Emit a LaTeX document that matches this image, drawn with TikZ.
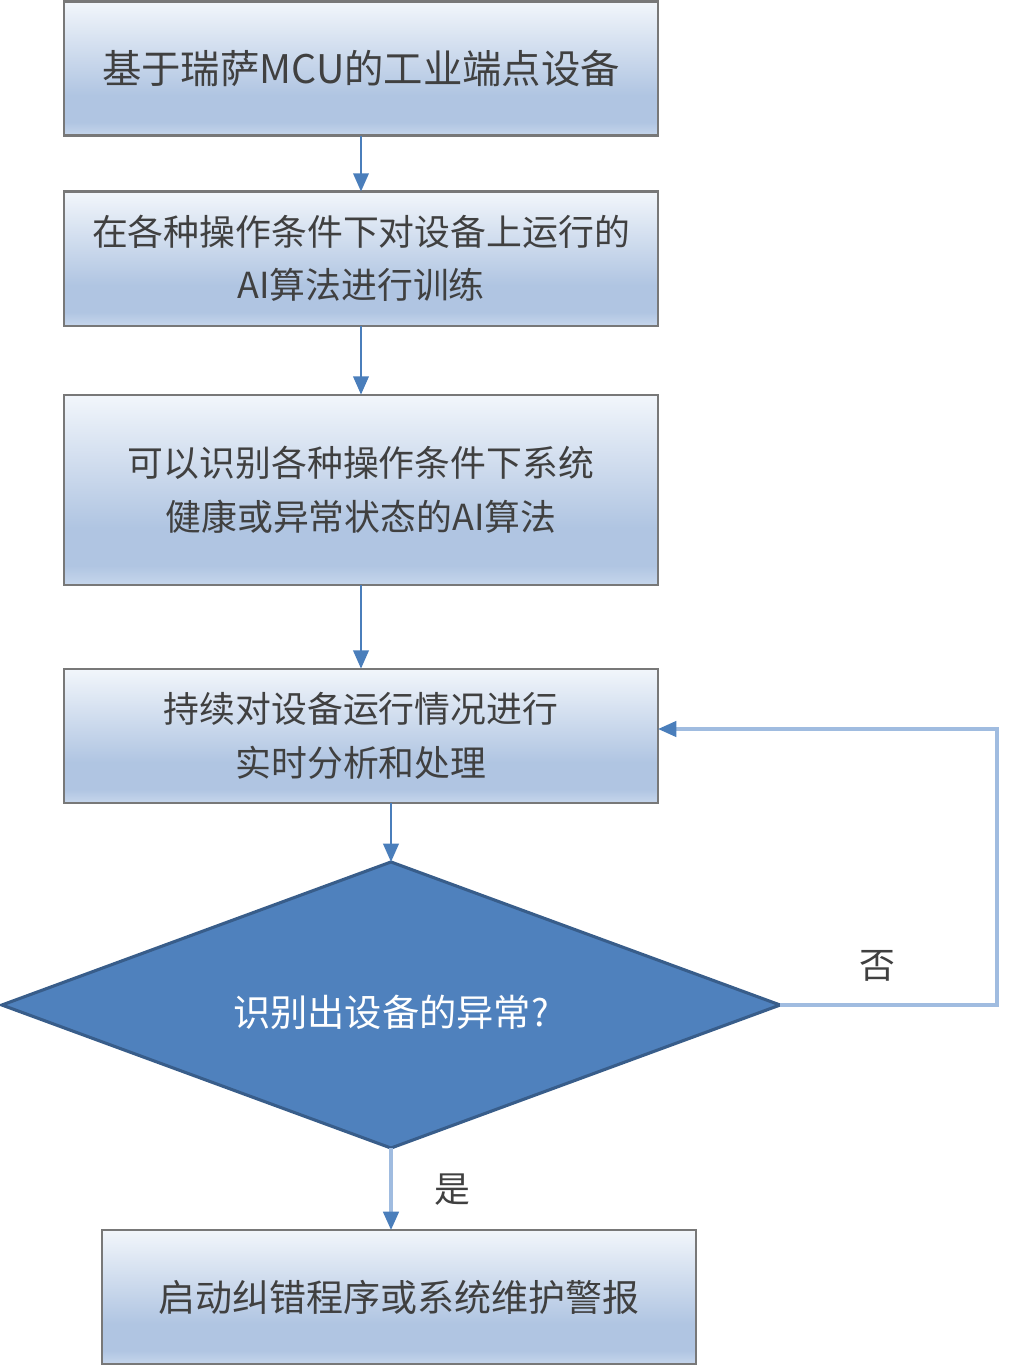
\documentclass[tikz,border=0pt]{standalone}
\usepackage{fontspec}
\setmainfont{Noto Sans CJK SC}
\usepackage{xcolor}
\usetikzlibrary{positioning,arrows.meta,shapes.geometric}
\definecolor{boxtop}   {RGB}{242,246,251}
\definecolor{boxmid}   {RGB}{176,197,226}
\definecolor{boxbot}   {RGB}{198,214,236}
\definecolor{bordercol}{RGB}{120,120,120}
\definecolor{textcol}  {RGB}{64,64,64}
\definecolor{arrowcol} {RGB}{74,126,187}
\definecolor{loopcol}  {RGB}{160,188,224}
\definecolor{diafill}  {RGB}{79,129,189}
\definecolor{diadraw}  {RGB}{56,93,138}
\pgfdeclareverticalshading{boxshade}{100bp}{color(0bp)=(boxbot); color(25bp)=(boxbot);
  color(30bp)=(boxmid); color(40bp)=(boxmid); color(75bp)=(boxtop); color(100bp)=(boxtop)}

\begin{document}
\begin{tikzpicture}[x=0.025cm,y=-0.025cm,
  fbox/.style={rectangle,draw=bordercol,line width=1.5pt,shade,shading=boxshade,
               minimum width=14.85cm,minimum height=3.35cm,inner sep=0pt,outer sep=0pt,
               text=textcol,align=center,font=\fontsize{25.5}{38}\selectfont},
  dbox/.style={diamond,draw=diadraw,fill=diafill,line width=2.2pt,aspect=2.7,
               minimum width=19.45cm,minimum height=7.15cm,inner sep=0pt,outer sep=0pt,
               text=white,font=\fontsize{26.5}{38}\selectfont},
  lbl/.style={text=textcol,font=\fontsize{25.5}{38}\selectfont},
  arr/.style ={-{Triangle[width=11pt,length=13pt]},line width=1.7pt,arrowcol},
  larr/.style={-{Triangle[width=11pt,length=13pt,color=arrowcol]},line width=2.2pt,loopcol},
]
\useasboundingbox (0,0) rectangle (1008,1366);
\node[fbox,font=\fontsize{28}{38}\selectfont] (b1) at (361,68.5) {基于瑞萨MCU的工业端点设备};
\node[fbox,below=1.4cm of b1] (b2) {在各种操作条件下对设备上运行的\\AI算法进行训练};
\node[fbox,minimum height=4.75cm,below=1.725cm of b2] (b3)
  {可以识别各种操作条件下系统\\健康或异常状态的AI算法};
\node[fbox,below=2.1cm of b3] (b4) {持续对设备运行情况进行\\实时分析和处理};
\node[dbox] (dia) at (391,1005) {\raisebox{-5pt}[\height][\depth]{识别出设备的异常?}};
\node[fbox,font=\fontsize{26.3}{38}\selectfont] (b5) at (399,1297) {启动纠错程序或系统维护警报};
\coordinate (ret) at (997,729);
\node[lbl] (no)  at (877,966)  {否};
\node[lbl] (yes) at (452,1190) {是};
\draw[arr] (b1)--(b2);
\draw[arr] (b2)--(b3);
\draw[arr] (b3)--(b4);
\draw[arr] (dia.north |- b4.south)--(dia.north);
\draw[larr] (dia.south)--(dia.south |- b5.north);
\draw[larr] (dia.east)-|(ret)--(ret -| b4.east);
\end{tikzpicture}
\end{document}
